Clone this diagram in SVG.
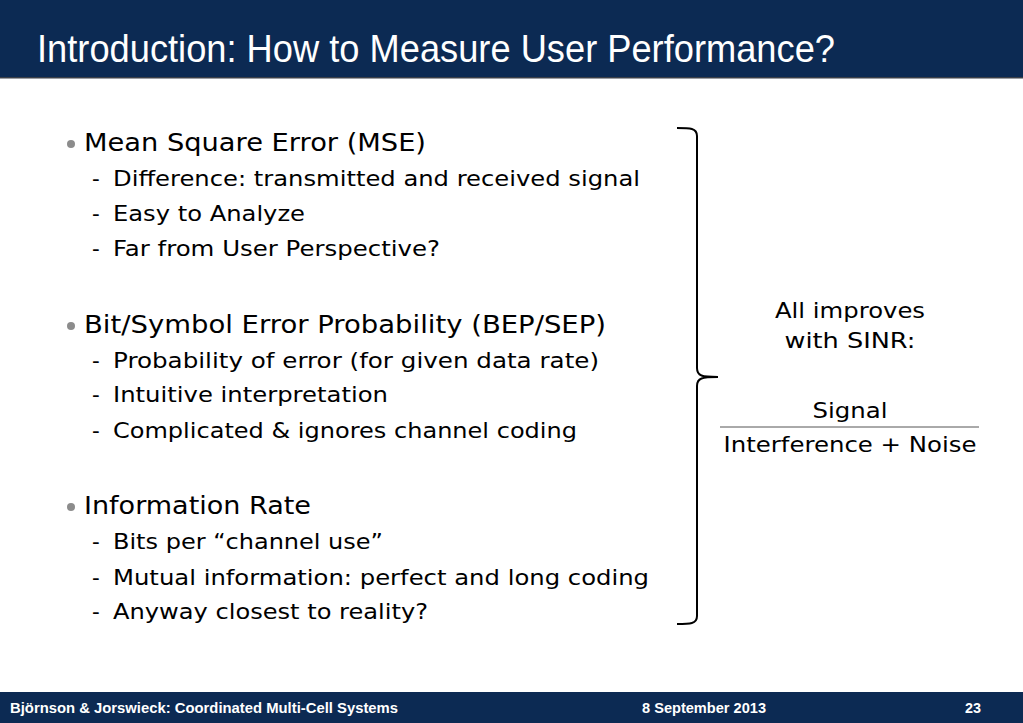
<svg xmlns="http://www.w3.org/2000/svg" width="1023" height="723" viewBox="0 0 1023 723">
<style>
.bar{fill:#0c2a53}
.title{font-family:"Liberation Sans",Arial,sans-serif;font-size:39px;fill:#ffffff}
.foot{font-family:"Liberation Sans",Arial,sans-serif;font-size:15px;font-weight:bold;fill:#ffffff}
.b{font-family:"DejaVu Sans",Verdana,sans-serif;font-size:24px;fill:#000}
.s{font-family:"DejaVu Sans",Verdana,sans-serif;font-size:21.5px;fill:#000}
.r{font-family:"DejaVu Sans",Verdana,sans-serif;font-size:22px;fill:#000;text-anchor:middle}
.dot{fill:#8c8c8c}
</style>
<rect width="1023" height="723" fill="#ffffff"/>
<g id="header">
<rect class="bar" x="0" y="0" width="1023" height="78"/>
<rect x="0" y="77" width="1023" height="1.5" fill="#3a3f48"/>
<text class="title" x="37" y="62" textLength="798" lengthAdjust="spacingAndGlyphs">Introduction: How to Measure User Performance?</text>
</g>
<g id="bullets">
<circle class="dot" cx="71" cy="144" r="4"/>
<text class="b" x="84" y="151" textLength="342" lengthAdjust="spacingAndGlyphs">Mean Square Error (MSE)</text>
<text class="s" x="92" y="186">-</text><text class="s" x="113" y="186" textLength="527" lengthAdjust="spacingAndGlyphs">Difference: transmitted and received signal</text>
<text class="s" x="92" y="221">-</text><text class="s" x="113" y="221" textLength="192" lengthAdjust="spacingAndGlyphs">Easy to Analyze</text>
<text class="s" x="92" y="256">-</text><text class="s" x="113" y="256" textLength="327" lengthAdjust="spacingAndGlyphs">Far from User Perspective?</text>
<circle class="dot" cx="71" cy="326" r="4"/>
<text class="b" x="84" y="333" textLength="522" lengthAdjust="spacingAndGlyphs">Bit/Symbol Error Probability (BEP/SEP)</text>
<text class="s" x="92" y="368">-</text><text class="s" x="113" y="368" textLength="486" lengthAdjust="spacingAndGlyphs">Probability of error (for given data rate)</text>
<text class="s" x="92" y="402">-</text><text class="s" x="113" y="402" textLength="275" lengthAdjust="spacingAndGlyphs">Intuitive interpretation</text>
<text class="s" x="92" y="438">-</text><text class="s" x="113" y="438" textLength="464" lengthAdjust="spacingAndGlyphs">Complicated &amp; ignores channel coding</text>
<circle class="dot" cx="71" cy="507" r="4"/>
<text class="b" x="84" y="514" textLength="227" lengthAdjust="spacingAndGlyphs">Information Rate</text>
<text class="s" x="92" y="549">-</text><text class="s" x="113" y="549" textLength="270" lengthAdjust="spacingAndGlyphs">Bits per “channel use”</text>
<text class="s" x="92" y="585">-</text><text class="s" x="113" y="585" textLength="536" lengthAdjust="spacingAndGlyphs">Mutual information: perfect and long coding</text>
<text class="s" x="92" y="619">-</text><text class="s" x="113" y="619" textLength="315" lengthAdjust="spacingAndGlyphs">Anyway closest to reality?</text>
</g>
<g id="brace" fill="none" stroke="#000" stroke-width="2">
<path d="M677,128 C690,128 697,128 697,136 L697,368 C697,376 702,377 718,377"/>
<path d="M718,377 C702,377 697,378 697,386 L697,616 C697,624 690,624 677,624"/>
</g>
<g id="sinr">
<text class="r" x="850" y="318" textLength="150" lengthAdjust="spacingAndGlyphs">All improves</text>
<text class="r" x="850" y="348" textLength="131" lengthAdjust="spacingAndGlyphs">with SINR:</text>
<text class="r" x="850" y="418" textLength="75" lengthAdjust="spacingAndGlyphs">Signal</text>
<line x1="720" y1="427" x2="979" y2="427" stroke="#555" stroke-width="1"/>
<text class="r" x="850" y="452" textLength="253" lengthAdjust="spacingAndGlyphs">Interference + Noise</text>
</g>
<g id="footer">
<rect class="bar" x="0" y="692" width="1023" height="31"/>
<text class="foot" x="10" y="713" textLength="388" lengthAdjust="spacingAndGlyphs">Björnson &amp; Jorswieck: Coordinated Multi-Cell Systems</text>
<text class="foot" x="642" y="713" textLength="124" lengthAdjust="spacingAndGlyphs">8 September 2013</text>
<text class="foot" x="965" y="713" textLength="16" lengthAdjust="spacingAndGlyphs">23</text>
</g>
</svg>
